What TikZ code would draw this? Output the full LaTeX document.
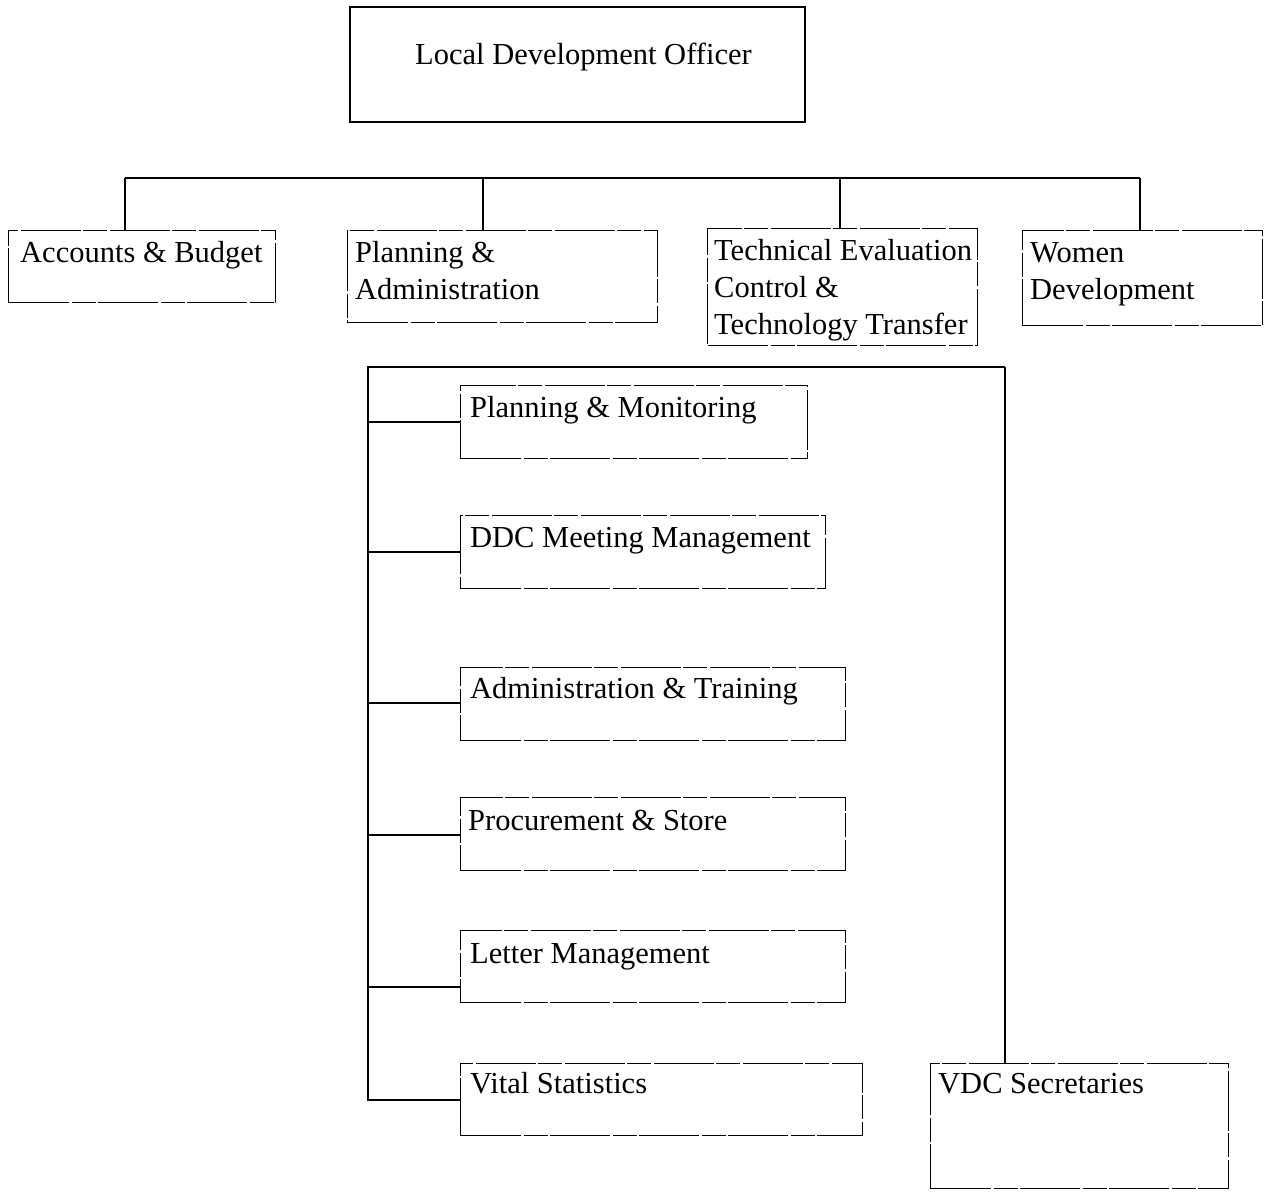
\documentclass[tikz,border=0pt]{standalone}
\usepackage{fontspec}
\setmainfont{Liberation Serif}
\begin{document}
\begin{tikzpicture}[x=1pt,y=-1pt,
  conn/.style={line width=1.6pt},
  topbox/.style={draw, line width=1.4pt},
  unitbox/.style={draw, line width=1.3pt, dash pattern=on 60pt off 3pt on 24pt off 2pt},
  lbl/.style={anchor=base west, inner sep=0pt, align=left, font=\fontsize{30.5}{37}\selectfont}]
\useasboundingbox (0,0) rectangle (1271,1192);
% top box
\draw[topbox] (350,7) rectangle (805,122);
\node[lbl] (ldo) at (415,64) {Local Development Officer};
% second row boxes
\node[unitbox, anchor=north west, minimum width=267pt, minimum height=72pt] (acc) at (8,230) {};
\node[unitbox, anchor=north west, minimum width=310pt, minimum height=92pt] (pa) at (347,230) {};
\node[unitbox, anchor=north west, minimum width=270pt, minimum height=117pt] (tec) at (707,228) {};
\node[unitbox, anchor=north west, minimum width=240pt, minimum height=95pt] (wom) at (1022,230) {};
\node[lbl] (accT) at (20,262) {Accounts \& Budget};
\node[lbl] (paT) at (355,299) {Planning \&\\Administration};
\node[lbl] (tecT) at (714,334) {Technical Evaluation\\Control \&\\Technology Transfer};
\node[lbl] (womT) at (1030,299) {Women\\Development};
% bus
\coordinate (busL) at (125,178);
\coordinate (busR) at (1140,178);
\coordinate (busA) at (483,178);
\coordinate (busB) at (840,178);
\draw[conn] (busL) -- (busR);
\draw[conn] (busL) -- (busL |- acc.north);
\draw[conn] (busA) -- (busA |- pa.north);
\draw[conn] (busB) -- (busB |- tec.north);
\draw[conn] (busR) -- (busR |- wom.north);
% sub units
\node[unitbox, anchor=north west, minimum width=347pt, minimum height=73pt] (pm) at (460,385) {};
\node[unitbox, anchor=north west, minimum width=365pt, minimum height=73pt] (ddc) at (460,515) {};
\node[unitbox, anchor=north west, minimum width=385pt, minimum height=73pt] (adt) at (460,667) {};
\node[unitbox, anchor=north west, minimum width=385pt, minimum height=73pt] (pst) at (460,797) {};
\node[unitbox, anchor=north west, minimum width=385pt, minimum height=72pt] (let) at (460,930) {};
\node[unitbox, anchor=north west, minimum width=402pt, minimum height=72pt] (vit) at (460,1063) {};
\node[unitbox, anchor=north west, minimum width=298pt, minimum height=125pt] (vdc) at (930,1063) {};
\node[lbl] (pmT) at (470,417) {Planning \& Monitoring};
\node[lbl] (ddcT) at (470,547) {DDC Meeting Management};
\node[lbl] (adtT) at (470,698) {Administration \& Training};
\node[lbl] (pstT) at (468,830) {Procurement \& Store};
\node[lbl] (letT) at (470,963) {Letter Management};
\node[lbl] (vitT) at (470,1093) {Vital Statistics};
\node[lbl] (vdcT) at (938,1093) {VDC Secretaries};
% container lines
\coordinate (cTL) at (368,367);
\coordinate (cTR) at (1005,367);
\coordinate (cBL) at (368,1100);
\draw[conn] (cTR) -- (cTL) -- (cBL) -- (cBL -| vit.west);
\draw[conn] (cTR) -- (cTR |- vdc.north);
\draw[conn] (368,422) -- (368,422 -| pm.west);
\draw[conn] (368,552) -- (368,552 -| ddc.west);
\draw[conn] (368,703) -- (368,703 -| adt.west);
\draw[conn] (368,835) -- (368,835 -| pst.west);
\draw[conn] (368,987) -- (368,987 -| let.west);
\end{tikzpicture}
\end{document}
